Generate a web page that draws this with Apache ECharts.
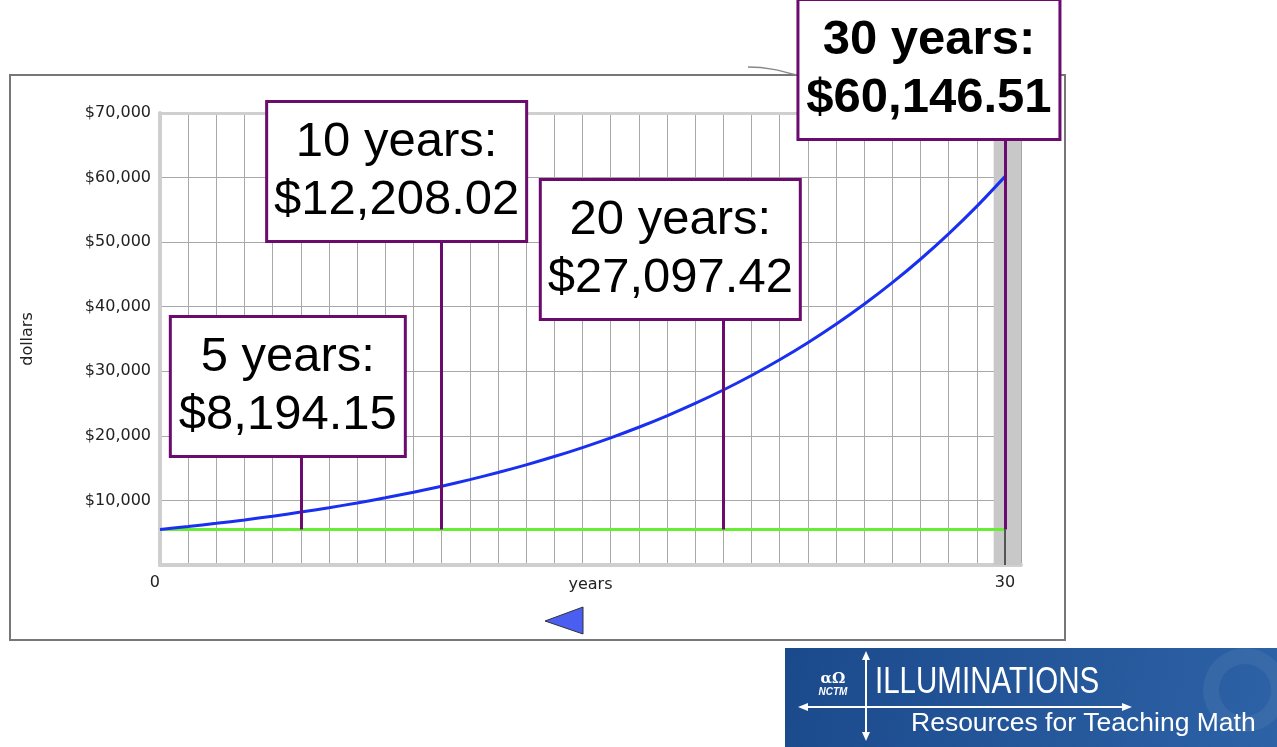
<!DOCTYPE html>
<html><head><meta charset="utf-8">
<script src="https://cdn.jsdelivr.net/npm/echarts/dist/echarts.min.js"></script>
<style>html,body{margin:0;padding:0;background:#fff}#c{width:1277px;height:747px}</style>
</head><body><div id="c"></div>
<script>
// ---- data ----
const years = [0,1,2,3,4,5,6,7,8,9,10,11,12,13,14,15,16,17,18,19,20,21,22,23,24,25,26,27,28,29,30];
const balance = [5500,5956.5,6450.9,6986.3,7566.2,8194.15,8874.3,9610.8,10408.5,11272.4,12208.02,
  13221.3,14318.6,15507.1,16794.2,18188.1,19697.7,21332.6,23103.2,25020.8,27097.42,
  29346.5,31782.2,34420.1,37277.0,40371.0,43721.8,47350.7,51280.8,55537.1,60146.51];
const principal = [5500,5500,5500,5500,5500,5500,5500,5500,5500,5500,5500,5500,5500,5500,5500,5500,
  5500,5500,5500,5500,5500,5500,5500,5500,5500,5500,5500,5500,5500,5500,5500];
const yTicks = [0,10000,20000,30000,40000,50000,60000,70000];
const xTickLabels = [0,30];
const calloutYears = [5,10,20,30];
const calloutValues = [8194.15,12208.02,27097.42,60146.51];

// ---- layout of callout boxes (not data) ----
const calloutLayout = [
  {top:17035, dx:-13, w:232, bold:false},
  {top:50332, dx:-45, w:257, bold:false},
  {top:38252, dx:-53, w:257, bold:false},
  {top:66128, dx:-76, w:259, bold:true}
];
const PURPLE = '#6b0b6e';
const fmt = v => '$' + v.toLocaleString('en-US',{minimumFractionDigits:2,maximumFractionDigits:2});

const chart = echarts.init(document.getElementById('c'), null, {renderer:'canvas'});
const option = {
  backgroundColor:'#fff',
  animation:false,
  grid:{left:160, right:256, top:113, bottom:182, containLabel:false},
  xAxis:{
    type:'value', min:0, max:30.57, interval:1,
    name:'years', nameLocation:'middle', nameGap:12, nameMoveOverlap:false,
    nameTextStyle:{fontFamily:'DejaVu Sans', fontSize:16, color:'#222'},
    axisLine:{show:true, lineStyle:{color:'#cfcfcf', width:4}},
    axisTick:{show:false},
    axisLabel:{margin:10, fontFamily:'DejaVu Sans', fontSize:16, color:'#222',
      alignMinLabel:'right', showMaxLabel:false,
      formatter:v => xTickLabels.indexOf(v) >= 0 ? String(v) : ''},
    splitLine:{show:true, lineStyle:{color:'#a8a8a8', width:1}}
  },
  yAxis:{
    type:'value', min:0, max:70000, interval:10000,
    name:'dollars', nameLocation:'middle', nameGap:124, nameRotate:90, nameMoveOverlap:false,
    nameTextStyle:{fontFamily:'DejaVu Sans', fontSize:16, color:'#222'},
    axisLine:{show:true, lineStyle:{color:'#cfcfcf', width:4}},
    axisTick:{show:false},
    axisLabel:{margin:9, fontFamily:'DejaVu Sans', fontSize:16, color:'#222',
      formatter:v => (v === 0 || yTicks.indexOf(v) < 0) ? '' : '$' + v.toLocaleString('en-US')},
    splitLine:{show:true, lineStyle:{color:'#a8a8a8', width:1}}
  },
  series:[
    {
      type:'line', name:'band', data:[], clip:false, z:1,
      markArea:{silent:true, itemStyle:{color:'#c8c8c8'},
        data:[[{xAxis:29.6, yAxis:0},{xAxis:30.57, yAxis:70000}]]},
      markLine:{silent:true, symbol:'none', label:{show:false},
        data:[
          [{coord:[30,0], lineStyle:{color:'#555', width:2, type:'solid'}},{coord:[30,5500]}],
          [{coord:[0,70000], lineStyle:{color:'#cfcfcf', width:3, type:'solid'}},{coord:[30,70000]}]
        ]}
    },
    {
      type:'line', name:'principal', data:years.map((x,i)=>[x,principal[i]]),
      showSymbol:false, symbol:'none', z:3,
      lineStyle:{color:'#66ee33', width:3}
    },
    {
      type:'line', name:'balance', data:years.map((x,i)=>[x,balance[i]]),
      showSymbol:false, symbol:'none', smooth:0.3, z:4,
      lineStyle:{color:'#1a30f0', width:3}
    },
    {
      type:'line', name:'callouts', data:[], z:10,
      markLine:{silent:true, symbol:'none', z:10, label:{show:false},
        lineStyle:{color:PURPLE, width:3, type:'solid'},
        data: calloutYears.map((yr,i)=>[{coord:[yr,principal[0]]},{coord:[yr,calloutLayout[i].top]}])
      },
      markPoint:{silent:true, z:20, symbol:'rect', symbolSize:0.1,
        itemStyle:{color:'rgba(0,0,0,0)'},
        data: calloutYears.map((yr,i)=>({
          coord:[yr, calloutLayout[i].top],
          label:{show:true, position:'top', distance:0, offset:[calloutLayout[i].dx,0],
            formatter: yr + ' years:\n' + fmt(calloutValues[i]),
            fontFamily:'"Liberation Sans", Arial, sans-serif', fontSize:49,
            fontWeight: calloutLayout[i].bold ? 'bold' : 'normal',
            lineHeight:58, color:'#000', align:'center',
            width: calloutLayout[i].w,
            backgroundColor:'#fff', borderColor:PURPLE, borderWidth:3,
            padding:[11,0,10,0]}
        }))
      }
    }
  ],
  graphic:[
    {type:'rect', z:0, silent:true, shape:{x:10, y:75, width:1055, height:565},
      style:{fill:'none', stroke:'#777', lineWidth:2}},
    {type:'bezierCurve', z:0, silent:true,
      shape:{x1:748, y1:67, x2:800, y2:76, cpx1:770, cpy1:67, cpx2:785, cpy2:72},
      style:{fill:'none', stroke:'#888', lineWidth:1.5}},
    {type:'polygon', silent:true, shape:{points:[[545,621],[583,607],[583,634]]},
      style:{fill:'#4a5ff2', stroke:'#333', lineWidth:1}},
    // logo
    {type:'rect', silent:true, shape:{x:785, y:648, width:492, height:99},
      style:{fill:new echarts.graphic.LinearGradient(0,0,1,1,[{offset:0,color:'#1b4a8c'},{offset:1,color:'#2d62a6'}])}},
    {type:'ring', silent:true, shape:{cx:1245, cy:690, r:42, r0:26},
      style:{fill:'rgba(255,255,255,0.06)'}},
    {type:'line', silent:true, shape:{x1:804, y1:707, x2:1126, y2:707}, style:{stroke:'#fff', lineWidth:2}},
    {type:'polygon', silent:true, shape:{points:[[798,707],[808,703],[808,711]]}, style:{fill:'#fff'}},
    {type:'polygon', silent:true, shape:{points:[[1132,707],[1122,703],[1122,711]]}, style:{fill:'#fff'}},
    {type:'line', silent:true, shape:{x1:866, y1:656, x2:866, y2:736}, style:{stroke:'#fff', lineWidth:2}},
    {type:'polygon', silent:true, shape:{points:[[866,651],[862,660],[870,660]]}, style:{fill:'#fff'}},
    {type:'polygon', silent:true, shape:{points:[[866,741],[862,732],[870,732]]}, style:{fill:'#fff'}},
    {type:'text', silent:true, x:833, y:679, style:{text:'αΩ', fill:'#fff', font:'bold 15px "DejaVu Serif"', align:'center', verticalAlign:'middle'}},
    {type:'text', silent:true, x:833, y:692, style:{text:'NCTM', fill:'#fff', font:'italic bold 10px "Liberation Sans"', align:'center', verticalAlign:'middle'}},
    {type:'text', silent:true, x:875, y:683, scaleX:0.82, style:{text:'ILLUMINATIONS', fill:'#fff', font:'36px "Liberation Sans"', verticalAlign:'middle'}},
    {type:'text', silent:true, x:911, y:724, style:{text:'Resources for Teaching Math', fill:'#fff', font:'26.5px "Liberation Sans"', verticalAlign:'middle'}}
  ]
};
chart.setOption(option);
</script>
</body></html>
